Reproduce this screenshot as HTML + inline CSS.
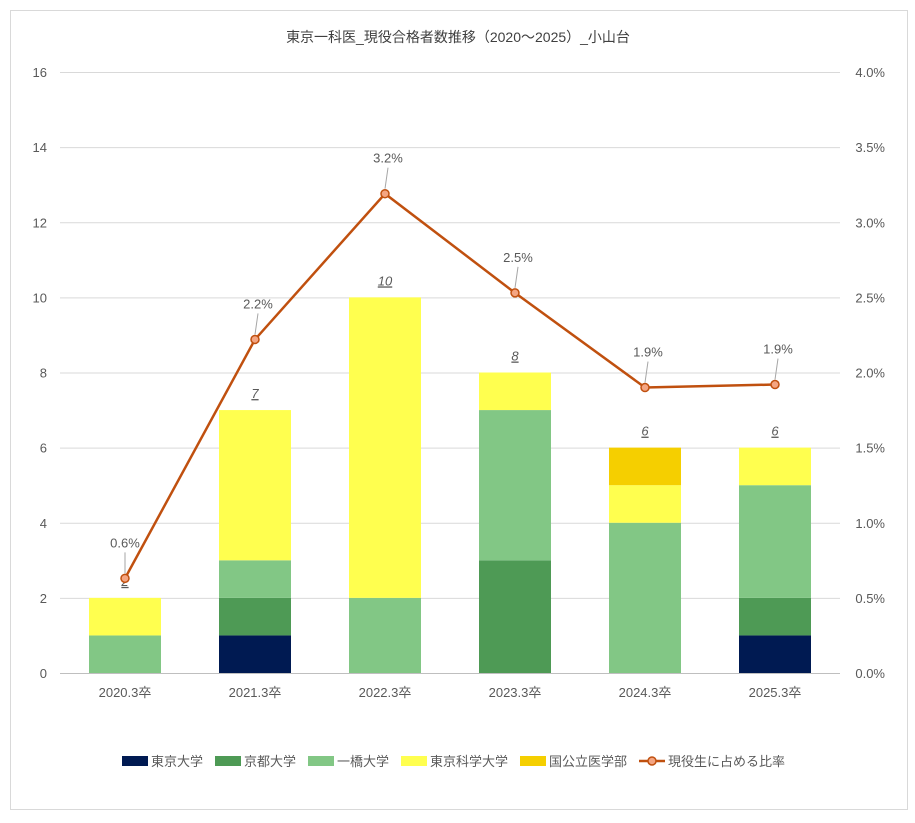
<!DOCTYPE html>
<html><head><meta charset="utf-8">
<style>
html,body{margin:0;padding:0;background:#fff;}
body{width:915px;height:818px;overflow:hidden;font-family:"Liberation Sans","Noto Sans CJK JP",sans-serif;}
</style></head>
<body>
<svg id="chart" width="915" height="818" xmlns="http://www.w3.org/2000/svg" font-family="Liberation Sans, Noto Sans CJK JP, sans-serif">
<rect x="10.5" y="10.5" width="897" height="799" fill="#fff" stroke="#d9d9d9"/>
<text x="458" y="42" text-anchor="middle" font-size="14" fill="#404040">東京一科医_現役合格者数推移（2020～2025）_小山台</text>
<g id="grid"></g><g id="bars"></g><g id="line"></g><g id="axes"></g><g id="legend"></g>
</svg>
<script>
const categories=["2020.3卒","2021.3卒","2022.3卒","2023.3卒","2024.3卒","2025.3卒"];
const seriesNames=["東京大学","京都大学","一橋大学","東京科学大学","国公立医学部"];
const todai=[0,1,0,0,0,1];
const kyodai=[0,1,0,3,0,1];
const hitotsubashi=[1,1,2,4,4,3];
const kagaku=[1,4,8,1,1,1];
const igakubu=[0,0,0,0,1,0];
const ratio=[0.63,2.22,3.19,2.53,1.90,1.92];
const ratioLabels=["0.6%","2.2%","3.2%","2.5%","1.9%","1.9%"];
const leftTicks=[0,2,4,6,8,10,12,14,16];
const rightTicks=["0.0%","0.5%","1.0%","1.5%","2.0%","2.5%","3.0%","3.5%","4.0%"];
const colors=["#001a52","#4e9a55","#82c785","#ffff4f","#f5cf00"];
const NS="http://www.w3.org/2000/svg";
const x0=60,x1=840,yB=673,yT=72;
const y=v=>yB-(yB-yT)*v/16;
const yr=p=>yB-(yB-yT)*p/4;
const band=(x1-x0)/categories.length;
const xc=i=>x0+band*(i+0.5);
const bw=72;
function mk(tag,attrs,parent,txt){const e=document.createElementNS(NS,tag);for(const k in attrs)e.setAttribute(k,attrs[k]);if(txt!==undefined)e.textContent=txt;parent.appendChild(e);return e;}
const grid=document.getElementById('grid'),axes=document.getElementById('axes');
leftTicks.forEach((t,i)=>{
  const l=mk('line',{x1:x0,x2:x1,y1:y(t)+0.5,y2:y(t)+0.5,stroke:t===0?'#bfbfbf':'#d9d9d9'},grid);
  
  
  const a=mk('text',{x:47,y:y(t)+5,'text-anchor':'end','font-size':13,fill:'#595959'},axes,String(t));
  
  
  const b=mk('text',{x:885,y:y(t)+5,'text-anchor':'end','font-size':13,fill:'#595959'},axes,rightTicks[i]);
  
  
});
categories.forEach((c,i)=>{
  const t=mk('text',{x:xc(i),y:697,'text-anchor':'middle','font-size':13,fill:'#595959'},axes,c);
  
  
});
const series=[todai,kyodai,hitotsubashi,kagaku,igakubu];
const bars=document.getElementById('bars');
categories.forEach((c,i)=>{
  let acc=0;
  series.forEach((s,k)=>{
    if(s[i]>0){
      const r=mk('rect',{x:xc(i)-bw/2,y:y(acc+s[i]),width:bw,height:y(acc)-y(acc+s[i]),fill:colors[k]},bars);
      
      
    }
    acc+=s[i];
  });
  const t=mk('text',{x:xc(i),y:y(acc)-12,'text-anchor':'middle','font-size':13,'font-style':'italic','text-decoration':'underline',fill:'#595959'},bars,String(acc));
  
  
});
const line=document.getElementById('line');
const pts=ratio.map((p,i)=>[xc(i),yr(p)]);
const pl=mk('polyline',{points:pts.map(p=>p.join(',')).join(' '),fill:'none',stroke:'#c0500f','stroke-width':2.5},line);


pts.forEach((p,i)=>{
  const ld=mk('line',{x1:p[0],y1:p[1]-5,x2:p[0]+(i===0?0:3),y2:p[1]-26,stroke:'#a6a6a6'},line);
  
  
  const m=mk('circle',{cx:p[0],cy:p[1],r:4,fill:'#f4a582',stroke:'#c0500f','stroke-width':1.5},line);
  
  
  const t=mk('text',{x:p[0]+(i===0?0:3),y:p[1]-31,'text-anchor':'middle','font-size':13,fill:'#595959'},line,ratioLabels[i]);
  
  
});
const legend=document.getElementById('legend');
let lx=122;const ly=761;
seriesNames.forEach((n,k)=>{
  const g=mk('g',{},legend);
  
  
  mk('rect',{x:lx,y:ly-5,width:26,height:10,fill:colors[k]},g);
  mk('text',{x:lx+29,y:ly+5,'font-size':13,fill:'#595959'},g,n);
  lx+=29+n.length*13+12;
});
const g=mk('g',{},legend);


mk('line',{x1:lx,x2:lx+26,y1:ly,y2:ly,stroke:'#c0500f','stroke-width':2.5},g);
mk('circle',{cx:lx+13,cy:ly,r:4,fill:'#f4a582',stroke:'#c0500f','stroke-width':1.5},g);
mk('text',{x:lx+29,y:ly+5,'font-size':13,fill:'#595959'},g,'現役生に占める比率');
</script>
</body></html>
